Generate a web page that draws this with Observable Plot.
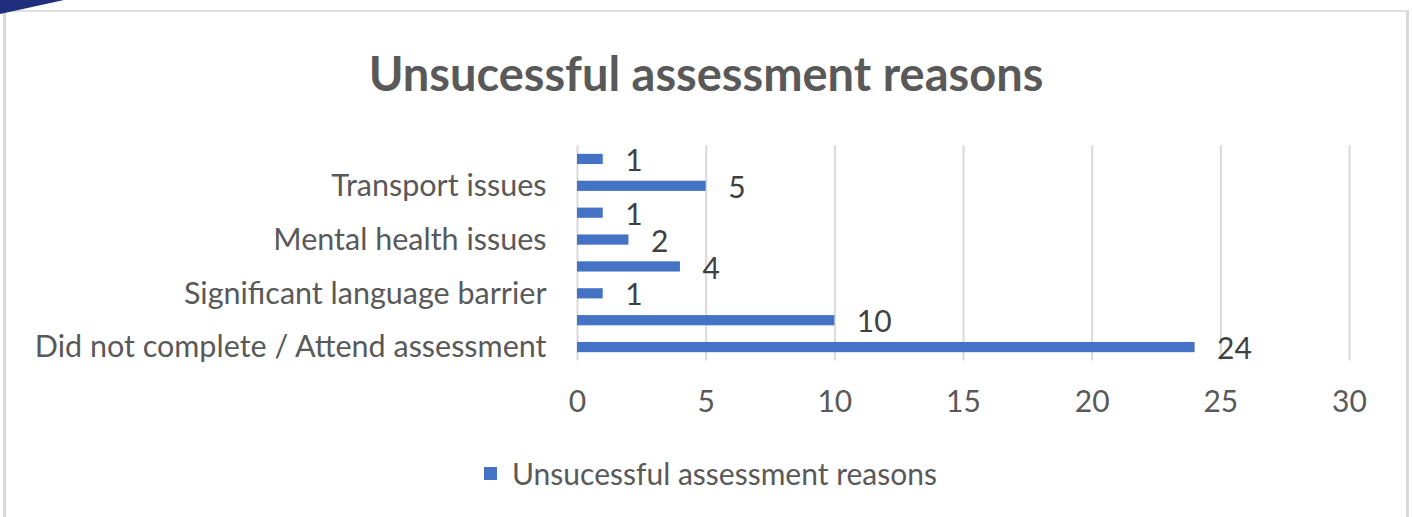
<!DOCTYPE html>
<html>
<head>
<meta charset="utf-8">
<script src="https://cdn.jsdelivr.net/npm/d3@7"></script>
<script src="https://cdn.jsdelivr.net/npm/@observablehq/plot@0.6"></script>
<style>
  html, body { margin: 0; padding: 0; background: #fff; }
  #wrap { position: relative; width: 1412px; height: 517px; overflow: hidden; font-family: Lato, "Noto Sans", sans-serif; }
  #corner { position: absolute; left: 0; top: 0; width: 64px; height: 14px; background: #1f2f7d; clip-path: polygon(0 0, 100% 0, 0 100%); }
  #frame { position: absolute; left: 3px; top: 10px; width: 1400px; height: 520px; border-left: 3px solid #d9d9d9; border-right: 3px solid #d9d9d9; border-top: 2px solid #dedede; }
  #title { position: absolute; left: 0; width: 1412px; top: 45px; text-align: center; font-size: 47px; font-weight: bold; color: #595959; }
  #chart { position: absolute; left: 0; top: 130px; }
  #legend { position: absolute; left: 484px; top: 455px; display: flex; align-items: center; font-size: 30px; color: #595959; }
  #legend .sw { width: 13px; height: 13px; background: #4472C4; margin-right: 15px; }
</style>
</head>
<body>
<div id="wrap">
  <div id="frame"></div>
  <div id="corner"></div>
  <div id="title">Unsucessful assessment reasons</div>
  <div id="chart"></div>
  <div id="legend"><span class="sw"></span><span>Unsucessful assessment reasons</span></div>
</div>
<script>
// Categories listed bottom to top (Excel order); only every other one is labelled on the axis
const categories = [
  "Did not complete / Attend assessment",
  "Reason 2",
  "Significant language barrier",
  "Reason 4",
  "Mental health issues",
  "Reason 6",
  "Transport issues",
  "Reason 8"
];
const tickLabels = [
  "Did not complete / Attend assessment",
  "",
  "Significant language barrier",
  "",
  "Mental health issues",
  "",
  "Transport issues",
  ""
];
const values = [24, 10, 1, 4, 2, 1, 5, 1];
const xTicks = [0, 5, 10, 15, 20, 25, 30];

const data = categories.map((c, i) => ({category: c, value: values[i]}));
const labelOf = new Map(categories.map((c, i) => [c, tickLabels[i]]));

const chart = Plot.plot({
  width: 1412,
  height: 291,
  marginLeft: 577,
  marginRight: 63,
  marginTop: 15.5,
  marginBottom: 60.5,
  style: {fontFamily: "Lato, 'Noto Sans', sans-serif", fontSize: "30px", color: "#595959", background: "transparent"},
  x: {domain: [0, 30], ticks: xTicks, label: null},
  y: {domain: [...categories].reverse(), paddingInner: 0.62, paddingOuter: 0.31, round: false, label: null},
  marks: [
    Plot.gridX(xTicks, {stroke: "#d9d9d9", strokeWidth: 2, strokeOpacity: 1}),
    Plot.barX(data, {x: "value", y: "category", fill: "#4472C4"}),
    Plot.text(data, {x: "value", y: "category", text: d => String(d.value), textAnchor: "start", dx: 22, dy: 2, fill: "#404040", fontSize: 30}),
    Plot.axisX({ticks: xTicks, tickSize: 0, tickPadding: 30, fill: "#595959", fontSize: 30, label: null}),
    Plot.axisY({tickSize: 0, tickPadding: 31, tickFormat: d => labelOf.get(d), fill: "#595959", fontSize: 30.5, label: null})
  ]
});
document.getElementById("chart").appendChild(chart);
</script>
</body>
</html>
